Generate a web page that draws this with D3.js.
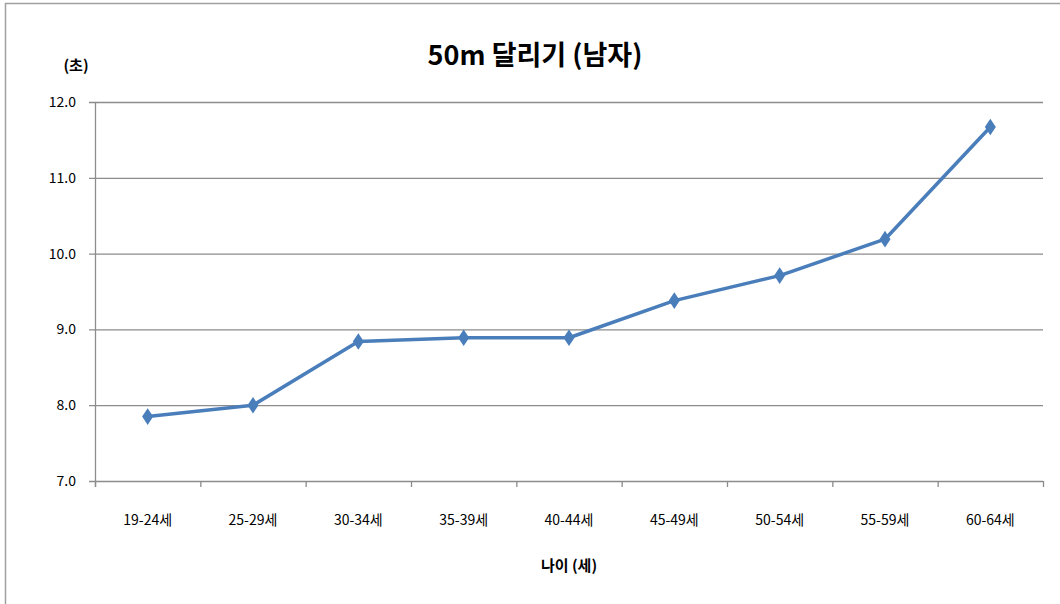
<!DOCTYPE html>
<html>
  <head>
    <meta charset="utf-8">
    <script src="https://cdn.jsdelivr.net/npm/d3@7/dist/d3.min.js"></script>
    <style>
      body { margin: 0; background: #fff; }
      text { font-family: "Noto Sans CJK KR", "Noto Sans", sans-serif; fill: #000; }
      .tick-label { font-size: 14px; }
      .axis-title { font-size: 15px; font-weight: bold; }
      .title { font-size: 27px; font-weight: bold; }
    </style>
  </head>
  <body>
    <svg id="chart" width="1060" height="604"></svg>
    <script>
      var ageGroups = ["19-24세", "25-29세", "30-34세", "35-39세", "40-44세", "45-49세", "50-54세", "55-59세", "60-64세"];
      var runTimes = [7.85, 8.0, 8.84, 8.89, 8.89, 9.38, 9.71, 10.19, 11.67];
      var yTicks = [7, 8, 9, 10, 11, 12];

      var svg = d3.select("#chart");

      // outer chart border
      svg.append("rect")
        .attr("x", 5.5).attr("y", 3.5)
        .attr("width", 1070).attr("height", 620)
        .style("fill", "none").style("stroke", "#a0a0a0").style("stroke-width", 1.5);

      var plotL = 95, plotR = 1043, plotT = 102, plotB = 481;

      var x = d3.scaleBand().domain(ageGroups).range([plotL, plotR]);
      var y = d3.scaleLinear().domain([7, 12]).range([plotB, plotT]);

      // gridlines
      svg.append("g").selectAll("line")
        .data(yTicks)
        .enter().append("line")
        .attr("x1", plotL - 6).attr("x2", plotR)
        .attr("y1", d => y(d) + 0.5).attr("y2", d => y(d) + 0.5)
        .style("stroke", "#8c8c8c").style("stroke-width", 1.3);

      // y axis line
      svg.append("line")
        .attr("x1", plotL + 0.5).attr("x2", plotL + 0.5)
        .attr("y1", plotT).attr("y2", plotB + 6)
        .style("stroke", "#8c8c8c").style("stroke-width", 1.3);

      // x tick marks
      var xTickPos = ageGroups.map(d => x(d) + x.bandwidth()).concat([plotL]);
      svg.append("g").selectAll("line")
        .data(xTickPos)
        .enter().append("line")
        .attr("x1", d => d + 0.5).attr("x2", d => d + 0.5)
        .attr("y1", plotB).attr("y2", plotB + 6)
        .style("stroke", "#8c8c8c").style("stroke-width", 1.3);

      // y tick labels
      svg.append("g").selectAll("text")
        .data(yTicks)
        .enter().append("text")
        .attr("class", "tick-label")
        .attr("x", 76).attr("y", d => y(d) + 5)
        .attr("text-anchor", "end")
        .text(d => d3.format(".1f")(d));

      // x tick labels
      svg.append("g").selectAll("text")
        .data(ageGroups)
        .enter().append("text")
        .attr("class", "tick-label")
        .attr("x", d => x(d) + x.bandwidth() / 2)
        .attr("y", 525)
        .attr("text-anchor", "middle")
        .text(d => d);

      // line
      var line = d3.line()
        .x((d, i) => x(ageGroups[i]) + x.bandwidth() / 2)
        .y(d => y(d));

      svg.append("path")
        .datum(runTimes)
        .attr("d", line)
        .style("fill", "none")
        .style("stroke", "#4a7ebb")
        .style("stroke-width", 3.5)
        .style("stroke-linejoin", "round");

      svg.append("g").selectAll("path")
        .data(runTimes)
        .enter().append("path")
        .attr("d", d3.symbol().type(d3.symbolDiamond).size(80))
        .attr("transform", (d, i) => "translate(" + (x(ageGroups[i]) + x.bandwidth() / 2) + "," + y(d) + ") scale(1.15,1)")
        .style("fill", "#4a7ebb");

      // titles
      svg.append("text")
        .attr("class", "title")
        .attr("x", 535).attr("y", 65)
        .attr("text-anchor", "middle")
        .text("50m 달리기 (남자)");

      svg.append("text")
        .attr("class", "axis-title")
        .attr("x", 76).attr("y", 71)
        .attr("text-anchor", "middle")
        .text("(초)");

      svg.append("text")
        .attr("class", "axis-title")
        .attr("x", 569).attr("y", 571)
        .attr("text-anchor", "middle")
        .text("나이 (세)");
    </script>
  </body>
</html>
